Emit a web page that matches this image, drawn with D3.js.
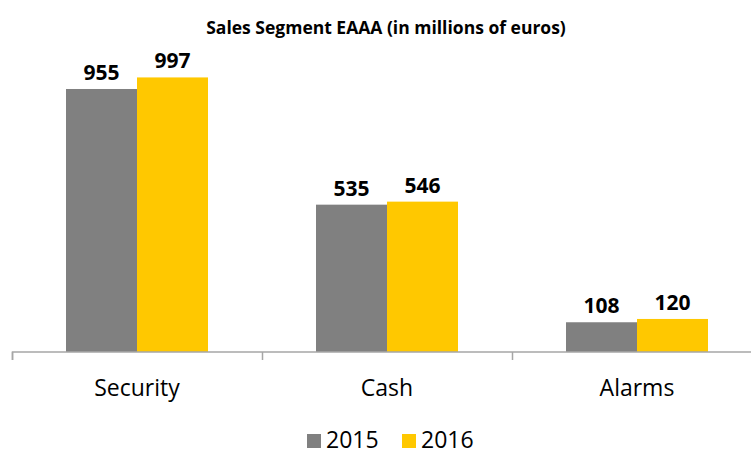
<!DOCTYPE html>
<html><head><meta charset="utf-8">
<script src="https://cdn.jsdelivr.net/npm/d3@7"></script>
<style>body{margin:0;background:#fff}svg{display:block}</style>
</head><body>
<svg id="c" width="751" height="450"></svg>
<script>
const categories = ["Security", "Cash", "Alarms"];
const seriesNames = ["2015", "2016"];
const values2015 = [955, 535, 108];
const values2016 = [997, 546, 120];
const colors = ["#808080", "#FFC800"];

const svg = d3.select("#c");
const font = "'Open Sans', 'Noto Sans', sans-serif";
const baseY = 352;
const x = d3.scaleBand().domain(categories).range([12, 762]).paddingInner(0).paddingOuter(0);
const xi = d3.scaleBand().domain(seriesNames).range([54, 196]);
const y = d3.scaleLinear().domain([0, 1000]).range([baseY, baseY - 275.4]);

svg.append("text").attr("x", 386).attr("y", 34).attr("text-anchor", "middle")
  .attr("font-family", font).attr("font-weight", "bold").attr("font-size", 17.5)
  .attr("fill", "#000").text("Sales Segment EAAA (in millions of euros)");

const data = categories.map((c, i) => ({cat: c, vals: [values2015[i], values2016[i]]}));
const g = svg.selectAll("g.cat").data(data).join("g").attr("class", "cat")
  .attr("transform", d => `translate(${x(d.cat)},0)`);
g.selectAll("rect").data(d => d.vals.map((v, j) => ({v, s: seriesNames[j], j})))
  .join("rect")
  .attr("x", d => xi(d.s)).attr("width", xi.bandwidth())
  .attr("y", d => y(d.v)).attr("height", d => baseY - y(d.v))
  .attr("fill", d => colors[d.j]);
g.selectAll("text.val").data(d => d.vals.map((v, j) => ({v, s: seriesNames[j]})))
  .join("text").attr("class", "val")
  .attr("x", d => xi(d.s) + xi.bandwidth() / 2).attr("y", d => y(d.v) - 9)
  .attr("text-anchor", "middle").attr("font-family", font).attr("font-weight", "bold")
  .attr("font-size", 21).attr("fill", "#000").text(d => d.v);

const axis = d3.axisBottom(x).tickSize(8).tickFormat("");
const ax = svg.append("g").attr("transform", `translate(0,${baseY})`).call(axis);
ax.select(".domain").attr("stroke", "#a6a6a6").attr("stroke-width", 1.5)
  .attr("d", `M12.5,8V0H762.5V8`);
ax.selectAll(".tick").remove();
const tickPos = [...categories.map(c => x(c)), x.range()[1]];
ax.selectAll("line.t").data(tickPos).join("line").attr("class", "t")
  .attr("x1", d => d + 0.5).attr("x2", d => d + 0.5).attr("y1", 0).attr("y2", 8)
  .attr("stroke", "#a6a6a6").attr("stroke-width", 1.5);
svg.selectAll("text.cat").data(categories).join("text").attr("class", "cat")
  .attr("x", d => x(d) + x.bandwidth() / 2).attr("y", 396).attr("text-anchor", "middle")
  .attr("font-family", font).attr("font-size", 23).attr("fill", "#000").text(d => d);

const legX = [307, 402];
const lg = svg.selectAll("g.leg").data(seriesNames).join("g").attr("class", "leg")
  .attr("transform", (d, i) => `translate(${legX[i]},0)`);
lg.append("rect").attr("x", 0).attr("y", 434).attr("width", 14).attr("height", 14)
  .attr("fill", (d, i) => colors[i]);
lg.append("text").attr("x", 19).attr("y", 448).attr("font-family", font)
  .attr("font-size", 23).attr("fill", "#000").text(d => d);
</script>
</body></html>
